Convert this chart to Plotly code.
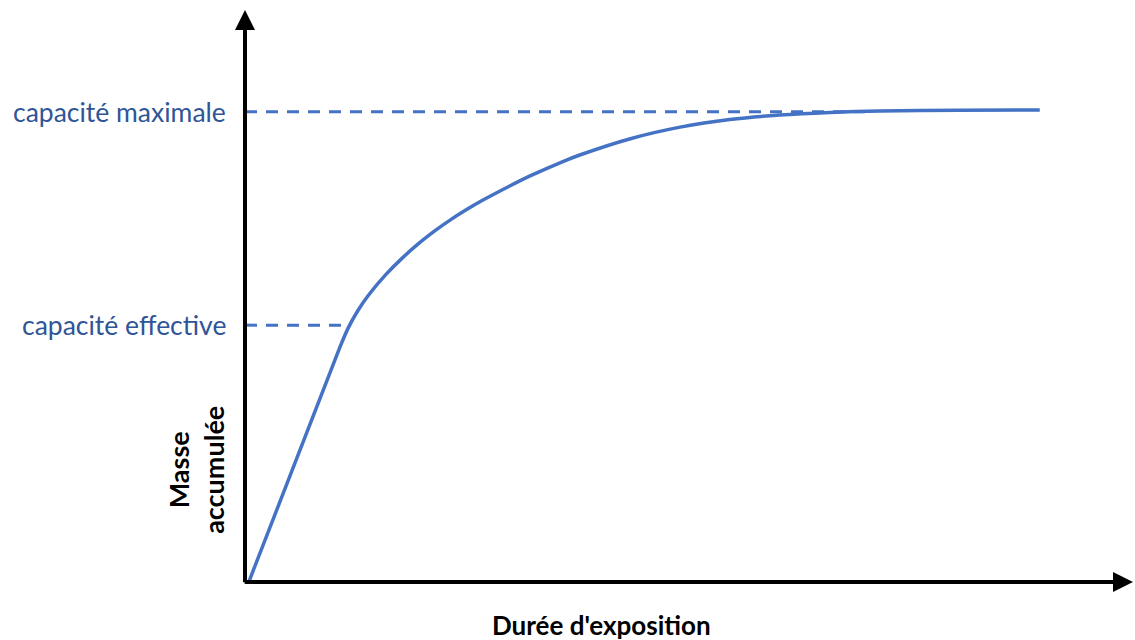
import plotly.graph_objects as go

# Curve data (arbitrary units: exposure duration vs accumulated mass)
duree = [0.05, 1.07, 1.16, 1.27, 1.39, 1.58, 1.77, 1.95, 2.14, 2.33, 2.51, 2.67,
         2.84, 3.21, 3.58, 3.77, 4.34, 4.90, 5.46, 6.02, 6.59, 7.15, 8.05, 8.95]
masse = [0.03, 4.110, 4.434, 4.742, 5.012, 5.364, 5.662, 5.910, 6.142, 6.349, 6.525, 6.669,
         6.810, 7.099, 7.351, 7.465, 7.750, 7.952, 8.086, 8.164, 8.210, 8.235, 8.249, 8.252]

niveaux_labels = ["capacité maximale", "capacité effective"]
niveaux_y = [8.22, 4.49]
niveaux_xfin = [6.98, 1.16]

x_title = "Durée d'exposition"
y_title = "Masse<br>accumulée"

blue_line = "#4472C4"
blue_text = "#2F5597"
FONT = "Lato, 'Open Sans', sans-serif"

fig = go.Figure()

# dashed reference lines
for lab, yv, xe in zip(niveaux_labels, niveaux_y, niveaux_xfin):
    fig.add_trace(go.Scatter(x=[0, xe], y=[yv, yv], mode="lines",
                             line=dict(color=blue_line, width=3, dash="12px,9px"),
                             hoverinfo="skip", showlegend=False))

fig.add_trace(go.Scatter(x=duree, y=masse, mode="lines",
                         line=dict(color=blue_line, width=3.5, shape="spline", smoothing=0.6),
                         showlegend=False))

annotations = []
# axes arrows
annotations.append(dict(x=0, y=10, ax=0, ay=-0.03, xref="x", yref="y", axref="x", ayref="y",
                        showarrow=True, arrowhead=2, arrowsize=1.0, arrowwidth=4,
                        arrowcolor="black", text=""))
annotations.append(dict(x=10, y=0, ax=-0.02, ay=0, xref="x", yref="y", axref="x", ayref="y",
                        showarrow=True, arrowhead=2, arrowsize=1.0, arrowwidth=4,
                        arrowcolor="black", text=""))
# level labels
for lab, yv in zip(niveaux_labels, niveaux_y):
    annotations.append(dict(x=0, y=yv, xref="x", yref="y", text=lab, showarrow=False,
                            xanchor="right", yanchor="middle", xshift=-17,
                            font=dict(family=FONT, size=26.5, color=blue_text)))
# axis titles
annotations.append(dict(x=0.401, y=-0.075, xref="paper", yref="paper", text="<b>" + x_title + "</b>",
                        showarrow=False, xanchor="center", yanchor="middle",
                        font=dict(family=FONT, size=26, color="black")))
annotations.append(dict(x=-0.0552, y=0.196, xref="paper", yref="paper", text="<b>" + y_title + "</b>",
                        showarrow=False, textangle=-90, xanchor="center", yanchor="middle",
                        font=dict(family=FONT, size=27, color="black")))

fig.update_layout(
    width=1135, height=640,
    margin=dict(l=245, r=2, t=10, b=58),
    paper_bgcolor="white", plot_bgcolor="white",
    xaxis=dict(range=[0, 10], visible=False, fixedrange=True),
    yaxis=dict(range=[0, 10], visible=False, fixedrange=True),
    annotations=annotations,
    showlegend=False,
)

fig.write_html("out.html", config={"displayModeBar": False},
               post_script="document.body.style.margin='0px';")
